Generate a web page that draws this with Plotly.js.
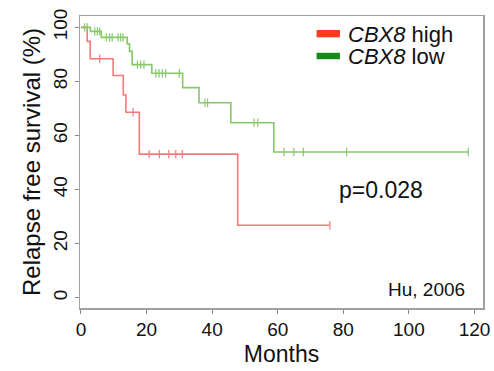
<!DOCTYPE html>
<html>
<head>
<meta charset="utf-8">
<script src="https://cdn.plot.ly/plotly-3.0.1.min.js"></script>
<style>html,body{margin:0;padding:0;background:#fff;}#chart{width:494px;height:371px;}</style>
</head>
<body>
<div id="chart"></div>
<script>
// CBX8 high: step times (months) and survival (%)
const highTime = [0, 1.9, 2.8, 9.8, 12.9, 13.7, 17.8, 47.8, 75.9];
const highSurv = [100, 94.8, 88.4, 82.2, 75.0, 68.6, 53.1, 26.8, 26.8];
const highCensor = [5.7, 15.9, 20.8, 23.9, 26.8, 28.9, 30.9, 75.9];

// CBX8 low
const lowTime = [0, 2.9, 6.2, 14.1, 14.8, 15.6, 21.6, 31.0, 36.0, 45.7, 58.8, 118.1];
const lowSurv = [100, 98.5, 96.3, 93.9, 91.1, 86.2, 83.0, 77.7, 72.1, 64.7, 53.9, 53.9];
const lowCensor = [1.1, 1.9, 4.2, 5.0, 5.7, 7.7, 8.7, 9.5, 11.3, 12.1, 12.8, 17.2, 18.2, 19.2,
  22.8, 23.8, 24.8, 25.8, 30.0, 37.8, 38.6, 52.8, 53.9, 61.9, 64.9, 67.8, 81.0, 118.1];

const xTicks = [0, 20, 40, 60, 80, 100, 120];
const yTicks = [0, 20, 40, 60, 80, 100];
const seriesNames = ["CBX8 high", "CBX8 low"];
const pText = "p=0.028";
const sourceText = "Hu, 2006";

function survAt(times, surv, t) {
  let v = surv[0];
  for (let i = 0; i < times.length; i++) { if (times[i] <= t) v = surv[i]; }
  return v;
}

const redLine = '#f47a7a', greenLine = '#86c96a';
const FONT = 'Liberation Sans, Arial, sans-serif';

const traces = [
  {x: highTime, y: highSurv, mode: 'lines', line: {shape: 'hv', color: redLine, width: 1.6}, showlegend: false, hoverinfo: 'skip'},
  {x: lowTime, y: lowSurv, mode: 'lines', line: {shape: 'hv', color: greenLine, width: 1.6}, showlegend: false, hoverinfo: 'skip'},
  {x: highCensor, y: highCensor.map(t => survAt(highTime, highSurv, t)), mode: 'markers',
   marker: {symbol: 'line-ns', size: 6, line: {color: redLine, width: 1.2}}, showlegend: false, hoverinfo: 'skip'},
  {x: lowCensor, y: lowCensor.map(t => survAt(lowTime, lowSurv, t)), mode: 'markers',
   marker: {symbol: 'line-ns', size: 6, line: {color: greenLine, width: 1.2}}, showlegend: false, hoverinfo: 'skip'}
];

const legendTxt = seriesNames.map(s => s.replace('CBX8', '<i>CBX8</i>'));

const layout = {
  width: 494, height: 371,
  margin: {l: 80, r: 11, t: 16, b: 63},
  paper_bgcolor: '#fff', plot_bgcolor: '#fff',
  font: {family: FONT, color: '#111'},
  showlegend: false,
  xaxis: {
    range: [-0.3, 122.6], tickvals: xTicks, ticktext: xTicks.map(String),
    showgrid: false, zeroline: false, showline: true, mirror: true,
    linecolor: '#a0a0a0', linewidth: 1.5,
    ticks: 'outside', ticklen: 4, tickcolor: '#888', tickwidth: 1,
    tickfont: {size: 19, family: FONT, color: '#111'},
    title: {text: 'Months', font: {size: 23, family: FONT, color: '#111'}, standoff: 6}
  },
  yaxis: {
    range: [-3.8, 104.2], tickvals: yTicks, ticktext: yTicks.map(String),
    showgrid: false, zeroline: false, showline: true, mirror: true,
    linecolor: '#a0a0a0', linewidth: 1.5,
    ticks: 'outside', ticklen: 4, tickcolor: '#888', tickwidth: 1,
    tickangle: -90,
    tickfont: {size: 19, family: FONT, color: '#111'},
    title: {text: 'Relapse free survival (%)', font: {size: 24, family: FONT, color: '#111'}, standoff: 2}
  },
  shapes: [
    {type: 'rect', xref: 'paper', yref: 'paper', x0: 0.587, x1: 0.645, y0: 0.927, y1: 0.952, fillcolor: '#ff3b1f', line: {width: 0}},
    {type: 'rect', xref: 'paper', yref: 'paper', x0: 0.587, x1: 0.645, y0: 0.852, y1: 0.874, fillcolor: '#138a13', line: {width: 0}}
  ],
  annotations: [
    {xref: 'paper', yref: 'paper', x: 0.66, y: 0.935, xanchor: 'left', yanchor: 'middle', showarrow: false,
     text: legendTxt[0], font: {size: 22, family: FONT, color: '#111'}},
    {xref: 'paper', yref: 'paper', x: 0.66, y: 0.86, xanchor: 'left', yanchor: 'middle', showarrow: false,
     text: legendTxt[1], font: {size: 22, family: FONT, color: '#111'}},
    {xref: 'paper', yref: 'paper', x: 0.638, y: 0.404, xanchor: 'left', yanchor: 'middle', showarrow: false,
     text: pText, font: {size: 23, family: FONT, color: '#111'}},
    {xref: 'paper', yref: 'paper', x: 0.96, y: 0.062, xanchor: 'right', yanchor: 'middle', showarrow: false,
     text: sourceText, font: {size: 19, family: FONT, color: '#111'}}
  ]
};

Plotly.newPlot('chart', traces, layout, {staticPlot: true, displayModeBar: false});
</script>
</body>
</html>
